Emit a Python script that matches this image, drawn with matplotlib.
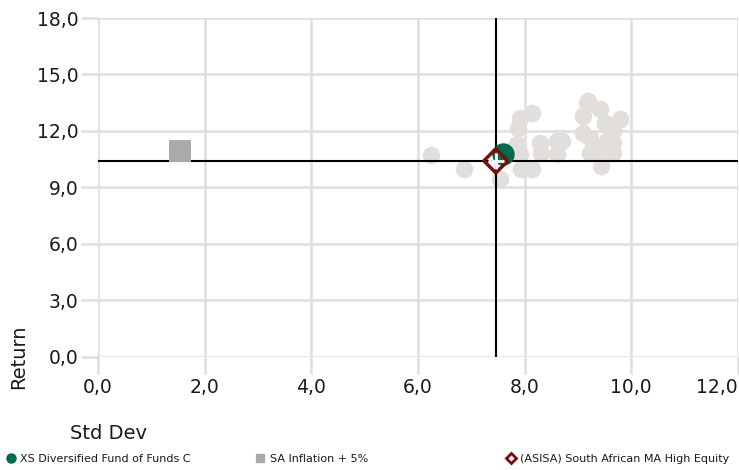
import matplotlib.pyplot as plt

# peer group funds (std dev, return)
peer_sd = [6.25, 6.86, 7.53, 7.72, 7.85, 7.87, 7.91, 7.91, 7.94, 8.13, 8.13, 8.28,
           8.31, 8.60, 8.60, 8.70, 9.10, 9.10, 9.16, 9.18, 9.22, 9.22, 9.41, 9.41,
           9.44, 9.54, 9.60, 9.66, 9.66, 9.66, 9.78, 9.30, 9.50]
peer_ret = [10.73, 10.00, 9.46, 10.94, 11.30, 12.17, 12.70, 10.77, 9.97, 12.97, 9.97, 11.38,
            10.85, 11.47, 10.75, 11.47, 12.80, 11.90, 13.50, 13.59, 11.65, 10.85, 13.15, 10.94,
            10.15, 11.47, 12.10, 11.38, 10.85, 12.00, 12.62, 11.20, 12.40]

fund_sd, fund_ret = 7.59, 10.75
infl_sd, infl_ret = 1.53, 10.96
cat_sd, cat_ret = 7.46, 10.41

xticks = [0, 2, 4, 6, 8, 10, 12]
yticks = [0, 3, 6, 9, 12, 15, 18]

fig = plt.figure(figsize=(7.39, 4.70), dpi=100)
ax = fig.add_axes([0.1326, 0.2409, 0.866, 0.7208])

grid_c = "#dedede"
ax.set_xlim(0, 12)
ax.set_ylim(0, 18)
ax.set_xticks(xticks)
ax.set_yticks(yticks)
ax.set_xticklabels([f"{v:.1f}".replace(".", ",") for v in xticks])
ax.set_yticklabels([f"{v:.1f}".replace(".", ",") for v in yticks])
ax.grid(True, color=grid_c, linewidth=1.8, zorder=0)
ax.set_axisbelow(True)
for s in ax.spines.values():
    s.set_visible(False)
ax.tick_params(axis="both", length=12, width=1.8, color=grid_c, labelsize=13.5,
               labelcolor="#1a1a1a")
ax.tick_params(axis="x", pad=3)
ax.tick_params(axis="y", pad=2)
ax.get_xticklabels()[-1].set_horizontalalignment("right")
ax.get_xticklabels()[-1].set_x(12.04)

ax.scatter(peer_sd, peer_ret, s=160, color="#e2dedc", linewidths=0, zorder=2)

ax.axvline(cat_sd, color="black", linewidth=1.5, zorder=3)
ax.axhline(cat_ret, color="black", linewidth=1.5, zorder=3)

ax.scatter([infl_sd], [infl_ret], marker="s", s=250, color="#aaaaaa", linewidths=0, zorder=4)
ax.scatter([fund_sd], [fund_ret], marker="o", s=260, color="#006b4f", linewidths=0, zorder=5)
ax.scatter([cat_sd], [cat_ret], marker="D", s=150, facecolor="none", edgecolor="#7a0c0c",
           linewidths=2.5, zorder=6)
ax.scatter([cat_sd], [cat_ret], marker="+", s=130, color="white", linewidths=2, zorder=7)

fig.text(0.095, 0.065, "Std Dev", fontsize=14, color="#1a1a1a")
fig.text(0.012, 0.18, "Return", fontsize=14, color="#1a1a1a", rotation=90)

# legend row
ly = 0.018
fig.lines.append(plt.Line2D([0.015], [ly + 0.008], marker="o", ms=6.5, color="#006b4f",
                            linestyle="none", transform=fig.transFigure))
fig.text(0.027, ly, "XS Diversified Fund of Funds C", fontsize=8, color="#1a1a1a")
fig.lines.append(plt.Line2D([0.352], [ly + 0.008], marker="s", ms=6, color="#aaaaaa",
                            linestyle="none", transform=fig.transFigure))
fig.text(0.365, ly, "SA Inflation + 5%", fontsize=8, color="#1a1a1a")
fig.lines.append(plt.Line2D([0.691], [ly + 0.008], marker="D", ms=5, markerfacecolor="white",
                            markeredgecolor="#7a0c0c", markeredgewidth=2, linestyle="none",
                            transform=fig.transFigure))
fig.text(0.703, ly, "(ASISA) South African MA High Equity", fontsize=8, color="#1a1a1a")

fig.savefig("out.png", dpi=100)
plt.close()
